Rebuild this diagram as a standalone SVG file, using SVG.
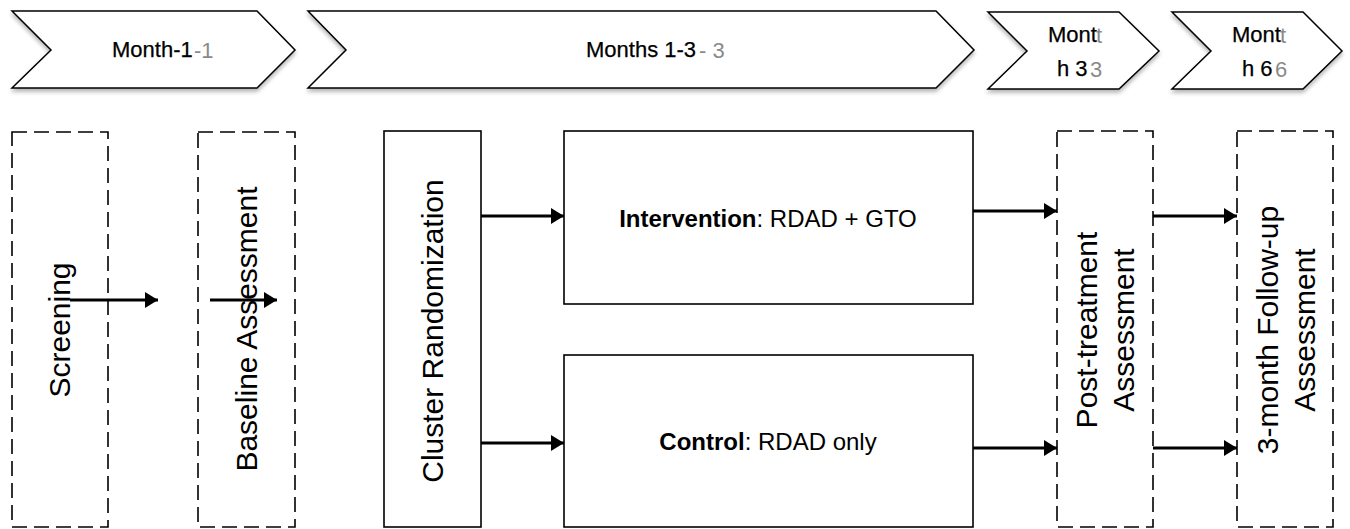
<svg xmlns="http://www.w3.org/2000/svg" width="1350" height="529" viewBox="0 0 1350 529">
<style>
.chev{fill:#fff;stroke:#000;stroke-width:1.5;}
.ct{font-family:"Liberation Sans",Arial,sans-serif;font-size:22px;fill:#000;stroke:#000;stroke-width:0.25;}
.cg{font-family:"Liberation Sans",Arial,sans-serif;font-size:22px;fill:#8a8a8a;}
.dash{fill:#fff;stroke:#000;stroke-width:1.6;stroke-dasharray:15 7;}
.solid{fill:#fff;stroke:#000;stroke-width:1.6;}
.vt{font-family:"Liberation Sans",Arial,sans-serif;font-size:30px;fill:#000;text-anchor:middle;}
.ht{font-family:"Liberation Sans",Arial,sans-serif;font-size:24px;fill:#000;text-anchor:middle;}
.arr{stroke:#000;stroke-width:3;fill:none;marker-end:url(#ah);}
</style>
<defs>
<marker id="ah" markerUnits="userSpaceOnUse" markerWidth="14" markerHeight="18" refX="13" refY="8" orient="auto">
<path d="M0,0 L13,8 L0,16 z" fill="#000"/>
</marker>
<filter id="sh" x="-5%" y="-20%" width="110%" height="150%">
<feGaussianBlur in="SourceAlpha" stdDeviation="2"/>
<feOffset dx="0" dy="3" result="b"/>
<feComponentTransfer><feFuncA type="linear" slope="0.3"/></feComponentTransfer>
<feMerge><feMergeNode/><feMergeNode in="SourceGraphic"/></feMerge>
</filter>
</defs>
<rect width="1350" height="529" fill="#fff"/>

<g id="chevron1">
<polygon class="chev" filter="url(#sh)" points="12,11 257,11 295,50 257,88 12,88 51,50"/>
<text class="ct" x="112" y="57">Month-1</text>
<text class="cg" x="194" y="58">-1</text>
</g>
<g id="chevron2">
<polygon class="chev" filter="url(#sh)" points="308,11 936,11 974,50 936,88 308,88 346,50"/>
<text class="ct" x="586" y="57">Months 1-3</text>
<text class="cg" x="699" y="58">- 3</text>
</g>
<g id="chevron3">
<polygon class="chev" filter="url(#sh)" points="988,12 1119,12 1159,51 1119,89 988,89 1027,51"/>
<text class="ct" x="1048" y="42">Mont</text>
<text class="cg" x="1096" y="43">t</text>
<text class="ct" x="1057" y="76">h 3</text>
<text class="cg" x="1090" y="77">3</text>
</g>
<g id="chevron4">
<polygon class="chev" filter="url(#sh)" points="1172,12 1303,12 1342,51 1303,89 1172,89 1211,51"/>
<text class="ct" x="1232" y="42">Mont</text>
<text class="cg" x="1280" y="43">t</text>
<text class="ct" x="1242" y="76">h 6</text>
<text class="cg" x="1275" y="77">6</text>
</g>

<g id="screening">
<rect class="dash" x="12" y="132" width="96" height="395"/>
<text class="vt" transform="translate(70,330) rotate(-90)">Screening</text>
</g>
<g id="baseline">
<rect class="dash" x="198" y="132" width="97" height="395"/>
<text class="vt" transform="translate(257,329) rotate(-90)">Baseline Assessment</text>
</g>
<g id="cluster">
<rect class="solid" x="384" y="131" width="97" height="396"/>
<text class="vt" transform="translate(443,331) rotate(-90)">Cluster Randomization</text>
</g>
<g id="intervention">
<rect class="solid" x="564" y="131" width="409" height="173"/>
<text class="ht" x="768" y="227"><tspan font-weight="bold">Intervention</tspan>: RDAD + GTO</text>
</g>
<g id="control">
<rect class="solid" x="564" y="355" width="409" height="172"/>
<text class="ht" x="768" y="450"><tspan font-weight="bold">Control</tspan>: RDAD only</text>
</g>
<g id="posttreatment">
<rect class="dash" x="1057" y="131" width="96" height="396"/>
<text class="vt" transform="translate(1097,330) rotate(-90)">Post-treatment</text>
<text class="vt" transform="translate(1134,330) rotate(-90)">Assessment</text>
</g>
<g id="followup">
<rect class="dash" x="1237" y="131" width="96" height="396"/>
<text class="vt" transform="translate(1278,330) rotate(-90)">3-month Follow-up</text>
<text class="vt" transform="translate(1315,330) rotate(-90)">Assessment</text>
</g>

<g id="connectors">
<line class="arr" x1="70" y1="300" x2="158" y2="300"/>
<line class="arr" x1="210" y1="300" x2="277" y2="300"/>
<line class="arr" x1="481" y1="216" x2="564" y2="216"/>
<line class="arr" x1="481" y1="443" x2="564" y2="443"/>
<line class="arr" x1="973" y1="211" x2="1057" y2="211"/>
<line class="arr" x1="973" y1="448" x2="1057" y2="448"/>
<line class="arr" x1="1153" y1="216" x2="1237" y2="216"/>
<line class="arr" x1="1153" y1="448" x2="1237" y2="448"/>
</g>
</svg>
